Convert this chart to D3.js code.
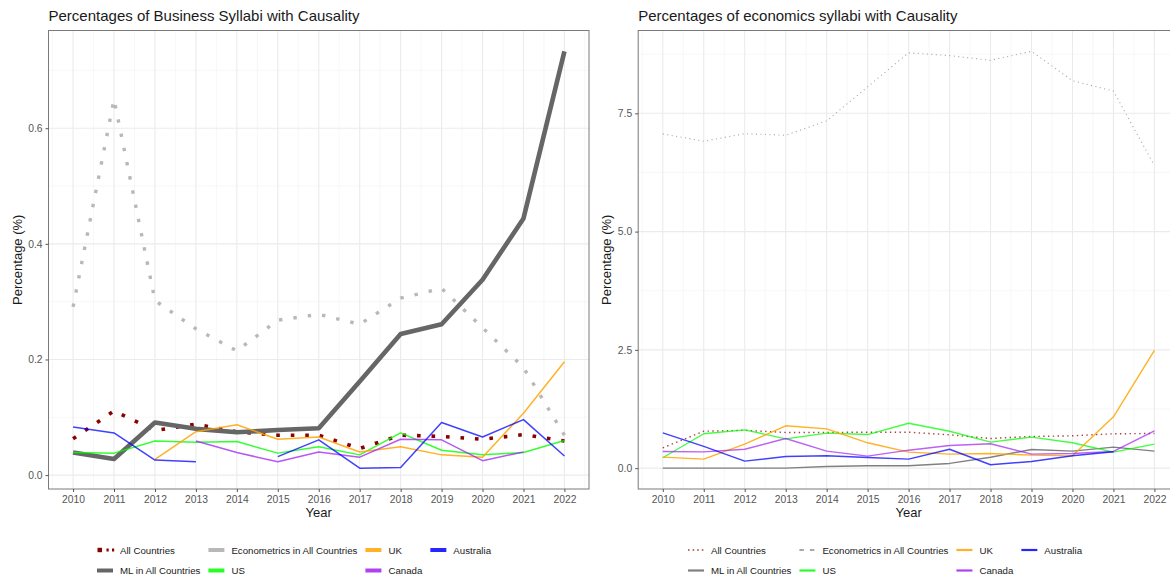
<!DOCTYPE html>
<html>
<head>
<meta charset="utf-8">
<script src="https://cdn.jsdelivr.net/npm/d3@7"></script>
<style>
  html, body { margin: 0; padding: 0; background: #fff; }
  svg { display: block; font-family: "Liberation Sans", Arial, Helvetica, sans-serif; }
</style>
</head>
<body>
<svg id="chart" width="1170" height="577"></svg>
<script>
// ---- Data -----------------------------------------------------------------
const years = [2010, 2011, 2012, 2013, 2014, 2015, 2016, 2017, 2018, 2019, 2020, 2021, 2022];
// legend order (filled column by column, two rows)
const seriesNames = ["All Countries", "ML in All Countries", "Econometrics in All Countries", "US", "UK", "Canada", "Australia"];

// Business syllabi (%)
const bizAll          = [0.063, 0.111, 0.077, 0.088, 0.075, 0.069, 0.069, 0.046, 0.069, 0.067, 0.062, 0.070, 0.059];
const bizEconometrics = [0.291, 0.650, 0.302, 0.253, 0.215, 0.268, 0.278, 0.261, 0.306, 0.323, 0.255, 0.186, 0.069];
const bizML           = [0.039, 0.028, 0.091, 0.080, 0.074, 0.078, 0.081, 0.162, 0.244, 0.261, 0.338, 0.444, 0.733];
const bizUS           = [0.039, 0.038, 0.059, 0.057, 0.058, 0.038, 0.049, 0.035, 0.073, 0.043, 0.035, 0.039, 0.060];
const bizUK           = [null, null, 0.027, 0.075, 0.087, 0.062, 0.066, 0.040, 0.049, 0.035, 0.031, 0.107, 0.196];
const bizCanada       = [null, null, null, 0.059, 0.039, 0.023, 0.040, 0.031, 0.062, 0.061, 0.025, 0.040, null];
const bizAustralia    = [0.083, 0.073, 0.026, 0.023, null, 0.032, 0.061, 0.012, 0.013, 0.091, 0.066, 0.096, 0.033];

// Economics syllabi (%)
const econAll          = [0.43, 0.78, 0.80, 0.755, 0.755, 0.76, 0.76, 0.705, 0.627, 0.67, 0.684, 0.727, 0.733];
const econEconometrics = [7.065, 6.91, 7.07, 7.036, 7.34, 8.06, 8.78, 8.72, 8.62, 8.81, 8.19, 7.97, 6.395];
const econML           = [0.0, 0.0, 0.0, 0.0, 0.035, 0.05, 0.05, 0.10, 0.23, 0.395, 0.36, 0.445, 0.36];
const econUS           = [0.22, 0.727, 0.81, 0.62, 0.74, 0.71, 0.95, 0.78, 0.55, 0.655, 0.536, 0.338, 0.507];
const econUK           = [0.233, 0.19, 0.507, 0.895, 0.83, 0.536, 0.338, 0.296, 0.31, 0.275, 0.26, 1.086, 2.49];
const econCanada       = [0.353, 0.345, 0.40, 0.627, 0.36, 0.254, 0.38, 0.48, 0.515, 0.296, 0.31, 0.353, 0.79];
const econAustralia    = [0.747, 0.46, 0.148, 0.247, 0.262, 0.226, 0.19, 0.40, 0.072, 0.141, 0.262, 0.346, null];

const bizTicks  = [0.0, 0.2, 0.4, 0.6];
const econTicks = [0.0, 2.5, 5.0, 7.5];

// ---- Styles ---------------------------------------------------------------
const bizStyle = {
  "All Countries":                 { color: "#8b0000", width: 3.6, dash: "3.6 10.9", opacity: 1 },
  "Econometrics in All Countries": { color: "#b8b8b8", width: 3.4, dash: "3.4 11.1", opacity: 1 },
  "ML in All Countries":           { color: "#666666", width: 4.6, dash: null, opacity: 1 },
  "US":        { color: "#00ff00", width: 1.5, dash: null, opacity: 0.8 },
  "UK":        { color: "#ffa500", width: 1.5, dash: null, opacity: 0.85 },
  "Canada":    { color: "#a020f0", width: 1.5, dash: null, opacity: 0.75 },
  "Australia": { color: "#0000ff", width: 1.5, dash: null, opacity: 0.75 }
};
const econStyle = {
  "All Countries":                 { color: "#a52a2a", width: 1.4, dash: "1.4 3.4", opacity: 0.9 },
  "Econometrics in All Countries": { color: "#a8a8a8", width: 1.1, dash: "1.1 3.4", opacity: 1 },
  "ML in All Countries":           { color: "#808080", width: 1.4, dash: null, opacity: 1 },
  "US":        { color: "#00ff00", width: 1.4, dash: null, opacity: 0.75 },
  "UK":        { color: "#ffa500", width: 1.4, dash: null, opacity: 0.85 },
  "Canada":    { color: "#a020f0", width: 1.4, dash: null, opacity: 0.7 },
  "Australia": { color: "#0000ff", width: 1.4, dash: null, opacity: 0.75 }
};

const svg = d3.select("#chart");

function drawPanel(cfg) {
  const { left, right, top, bottom, title, series, ticks, minor, style, legendX, legendKeys } = cfg;

  // y domain: data range padded by 5% on each side
  const all = series.flatMap(s => s.values).filter(v => v != null);
  const lo = d3.min(all), hi = d3.max(all), pad = (hi - lo) * 0.05;
  const x = d3.scaleLinear().domain([years[0] - 0.6, years[years.length - 1] + 0.6]).range([left, right]);
  const y = d3.scaleLinear().domain([lo - pad, hi + pad]).range([bottom, top]);

  const g = svg.append("g");

  // grid
  const minorX = d3.range(years[0] - 0.5, years[years.length - 1] + 0.51, 1);
  g.append("g").selectAll("line").data(minorX).join("line")
    .attr("x1", d => x(d)).attr("x2", d => x(d)).attr("y1", top).attr("y2", bottom)
    .attr("stroke", "#f2f2f2").attr("stroke-width", 0.6);
  g.append("g").selectAll("line").data(minor).join("line")
    .attr("x1", left).attr("x2", right).attr("y1", d => y(d)).attr("y2", d => y(d))
    .attr("stroke", "#f2f2f2").attr("stroke-width", 0.6);
  g.append("g").selectAll("line").data(years).join("line")
    .attr("x1", d => x(d)).attr("x2", d => x(d)).attr("y1", top).attr("y2", bottom)
    .attr("stroke", "#ebebeb").attr("stroke-width", 1.1);
  g.append("g").selectAll("line").data(ticks).join("line")
    .attr("x1", left).attr("x2", right).attr("y1", d => y(d)).attr("y2", d => y(d))
    .attr("stroke", "#ebebeb").attr("stroke-width", 1.1);

  // series
  const line = d3.line().defined(d => d.v != null).x(d => x(d.year)).y(d => y(d.v));
  const order = ["Econometrics in All Countries", "All Countries", "ML in All Countries", "US", "UK", "Canada", "Australia"];
  order.forEach(name => {
    const s = series.find(d => d.name === name);
    const st = style[name];
    g.append("path")
      .datum(years.map((yr, i) => ({ year: yr, v: s.values[i] })))
      .attr("d", line)
      .attr("fill", "none")
      .attr("stroke", st.color)
      .attr("stroke-opacity", st.opacity)
      .attr("stroke-width", st.width)
      .attr("stroke-dasharray", st.dash)
      .attr("stroke-linejoin", "round");
  });

  // panel border
  g.append("rect").attr("x", left).attr("y", top).attr("width", right - left).attr("height", bottom - top)
    .attr("fill", "none").attr("stroke", "#7a7a7a").attr("stroke-width", 1);

  // axes
  const xAxis = d3.axisBottom(x).tickValues(years).tickFormat(d3.format("d")).tickSizeInner(3).tickSizeOuter(0).tickPadding(4);
  const gx = g.append("g").attr("transform", `translate(0,${bottom})`).call(xAxis);
  const yAxis = d3.axisLeft(y).tickValues(ticks).tickFormat(d3.format(".1f")).tickSizeInner(3).tickSizeOuter(0).tickPadding(3);
  const gy = g.append("g").attr("transform", `translate(${left},0)`).call(yAxis);
  [gx, gy].forEach(a => {
    a.select(".domain").remove();
    a.selectAll(".tick line").attr("stroke", "#555");
    a.selectAll(".tick text").attr("fill", "#555").attr("font-size", 10.3)
      .attr("font-family", "'Liberation Sans', Arial, sans-serif");
  });

  // titles
  g.append("text").attr("x", left).attr("y", 21).text(title)
    .attr("font-size", 15).attr("fill", "#1a1a1a");
  g.append("text").attr("x", (left + right) / 2).attr("y", 517).attr("text-anchor", "middle")
    .text("Year").attr("font-size", 13).attr("fill", "#1a1a1a");
  g.append("text").attr("transform", `translate(${left - 27},${(top + bottom) / 2}) rotate(-90)`)
    .attr("text-anchor", "middle").text("Percentage (%)").attr("font-size", 13).attr("fill", "#1a1a1a");

  // legend: 2 rows, filled column by column
  const rows = [550, 570.5];
  const keyW = 16, labelGap = 7, colGap = 8;
  let cx = legendX;
  for (let c = 0; c < Math.ceil(seriesNames.length / 2); c++) {
    const names = seriesNames.slice(c * 2, c * 2 + 2);
    let maxW = 0;
    names.forEach((name, r) => {
      const ky = rows[r];
      legendKeys(g, name, cx, ky, keyW);
      const t = g.append("text").attr("x", cx + keyW + labelGap).attr("y", ky + 3.5)
        .attr("font-size", 9.7).attr("fill", "#1a1a1a").text(name);
      maxW = Math.max(maxW, t.node().getComputedTextLength());
    });
    cx += keyW + labelGap + maxW + colGap;
  }
}

function bizKey(g, name, x0, y0, w) {
  const st = bizStyle[name];
  if (name === "All Countries") {
    g.append("rect").attr("x", x0 + 0.5).attr("y", y0 - 2.2).attr("width", 4.5).attr("height", 4.4).attr("fill", st.color);
    [9.5, 15].forEach(dx => g.append("rect").attr("x", x0 + dx).attr("y", y0 - 1.5)
      .attr("width", 2.2).attr("height", 3).attr("fill", st.color));
    return;
  }
  g.append("line").attr("x1", x0).attr("x2", x0 + w).attr("y1", y0).attr("y2", y0)
    .attr("stroke", st.color).attr("stroke-opacity", Math.max(st.opacity, 0.85)).attr("stroke-width", 4);
}

function econKey(g, name, x0, y0, w) {
  const st = econStyle[name];
  let dash = null;
  if (name === "All Countries") dash = "1.6 3";
  if (name === "Econometrics in All Countries") dash = "4.5 6";
  g.append("line").attr("x1", x0).attr("x2", x0 + w).attr("y1", y0).attr("y2", y0)
    .attr("stroke", st.color).attr("stroke-opacity", Math.max(st.opacity, 0.85))
    .attr("stroke-width", name === "All Countries" ? 1.6 : 2.2).attr("stroke-dasharray", dash);
}

drawPanel({
  left: 48.5, right: 589, top: 30.5, bottom: 489,
  title: "Percentages of Business Syllabi with Causality",
  series: [
    { name: "All Countries", values: bizAll },
    { name: "Econometrics in All Countries", values: bizEconometrics },
    { name: "ML in All Countries", values: bizML },
    { name: "US", values: bizUS },
    { name: "UK", values: bizUK },
    { name: "Canada", values: bizCanada },
    { name: "Australia", values: bizAustralia }
  ],
  ticks: bizTicks, minor: [0.1, 0.3, 0.5, 0.7],
  style: bizStyle, legendX: 97, legendKeys: bizKey
});

drawPanel({
  left: 638.2, right: 1179, top: 30.5, bottom: 489,
  title: "Percentages of economics syllabi with Causality",
  series: [
    { name: "All Countries", values: econAll },
    { name: "Econometrics in All Countries", values: econEconometrics },
    { name: "ML in All Countries", values: econML },
    { name: "US", values: econUS },
    { name: "UK", values: econUK },
    { name: "Canada", values: econCanada },
    { name: "Australia", values: econAustralia }
  ],
  ticks: econTicks, minor: [1.25, 3.75, 6.25, 8.75],
  style: econStyle, legendX: 688, legendKeys: econKey
});
</script>
</body>
</html>
